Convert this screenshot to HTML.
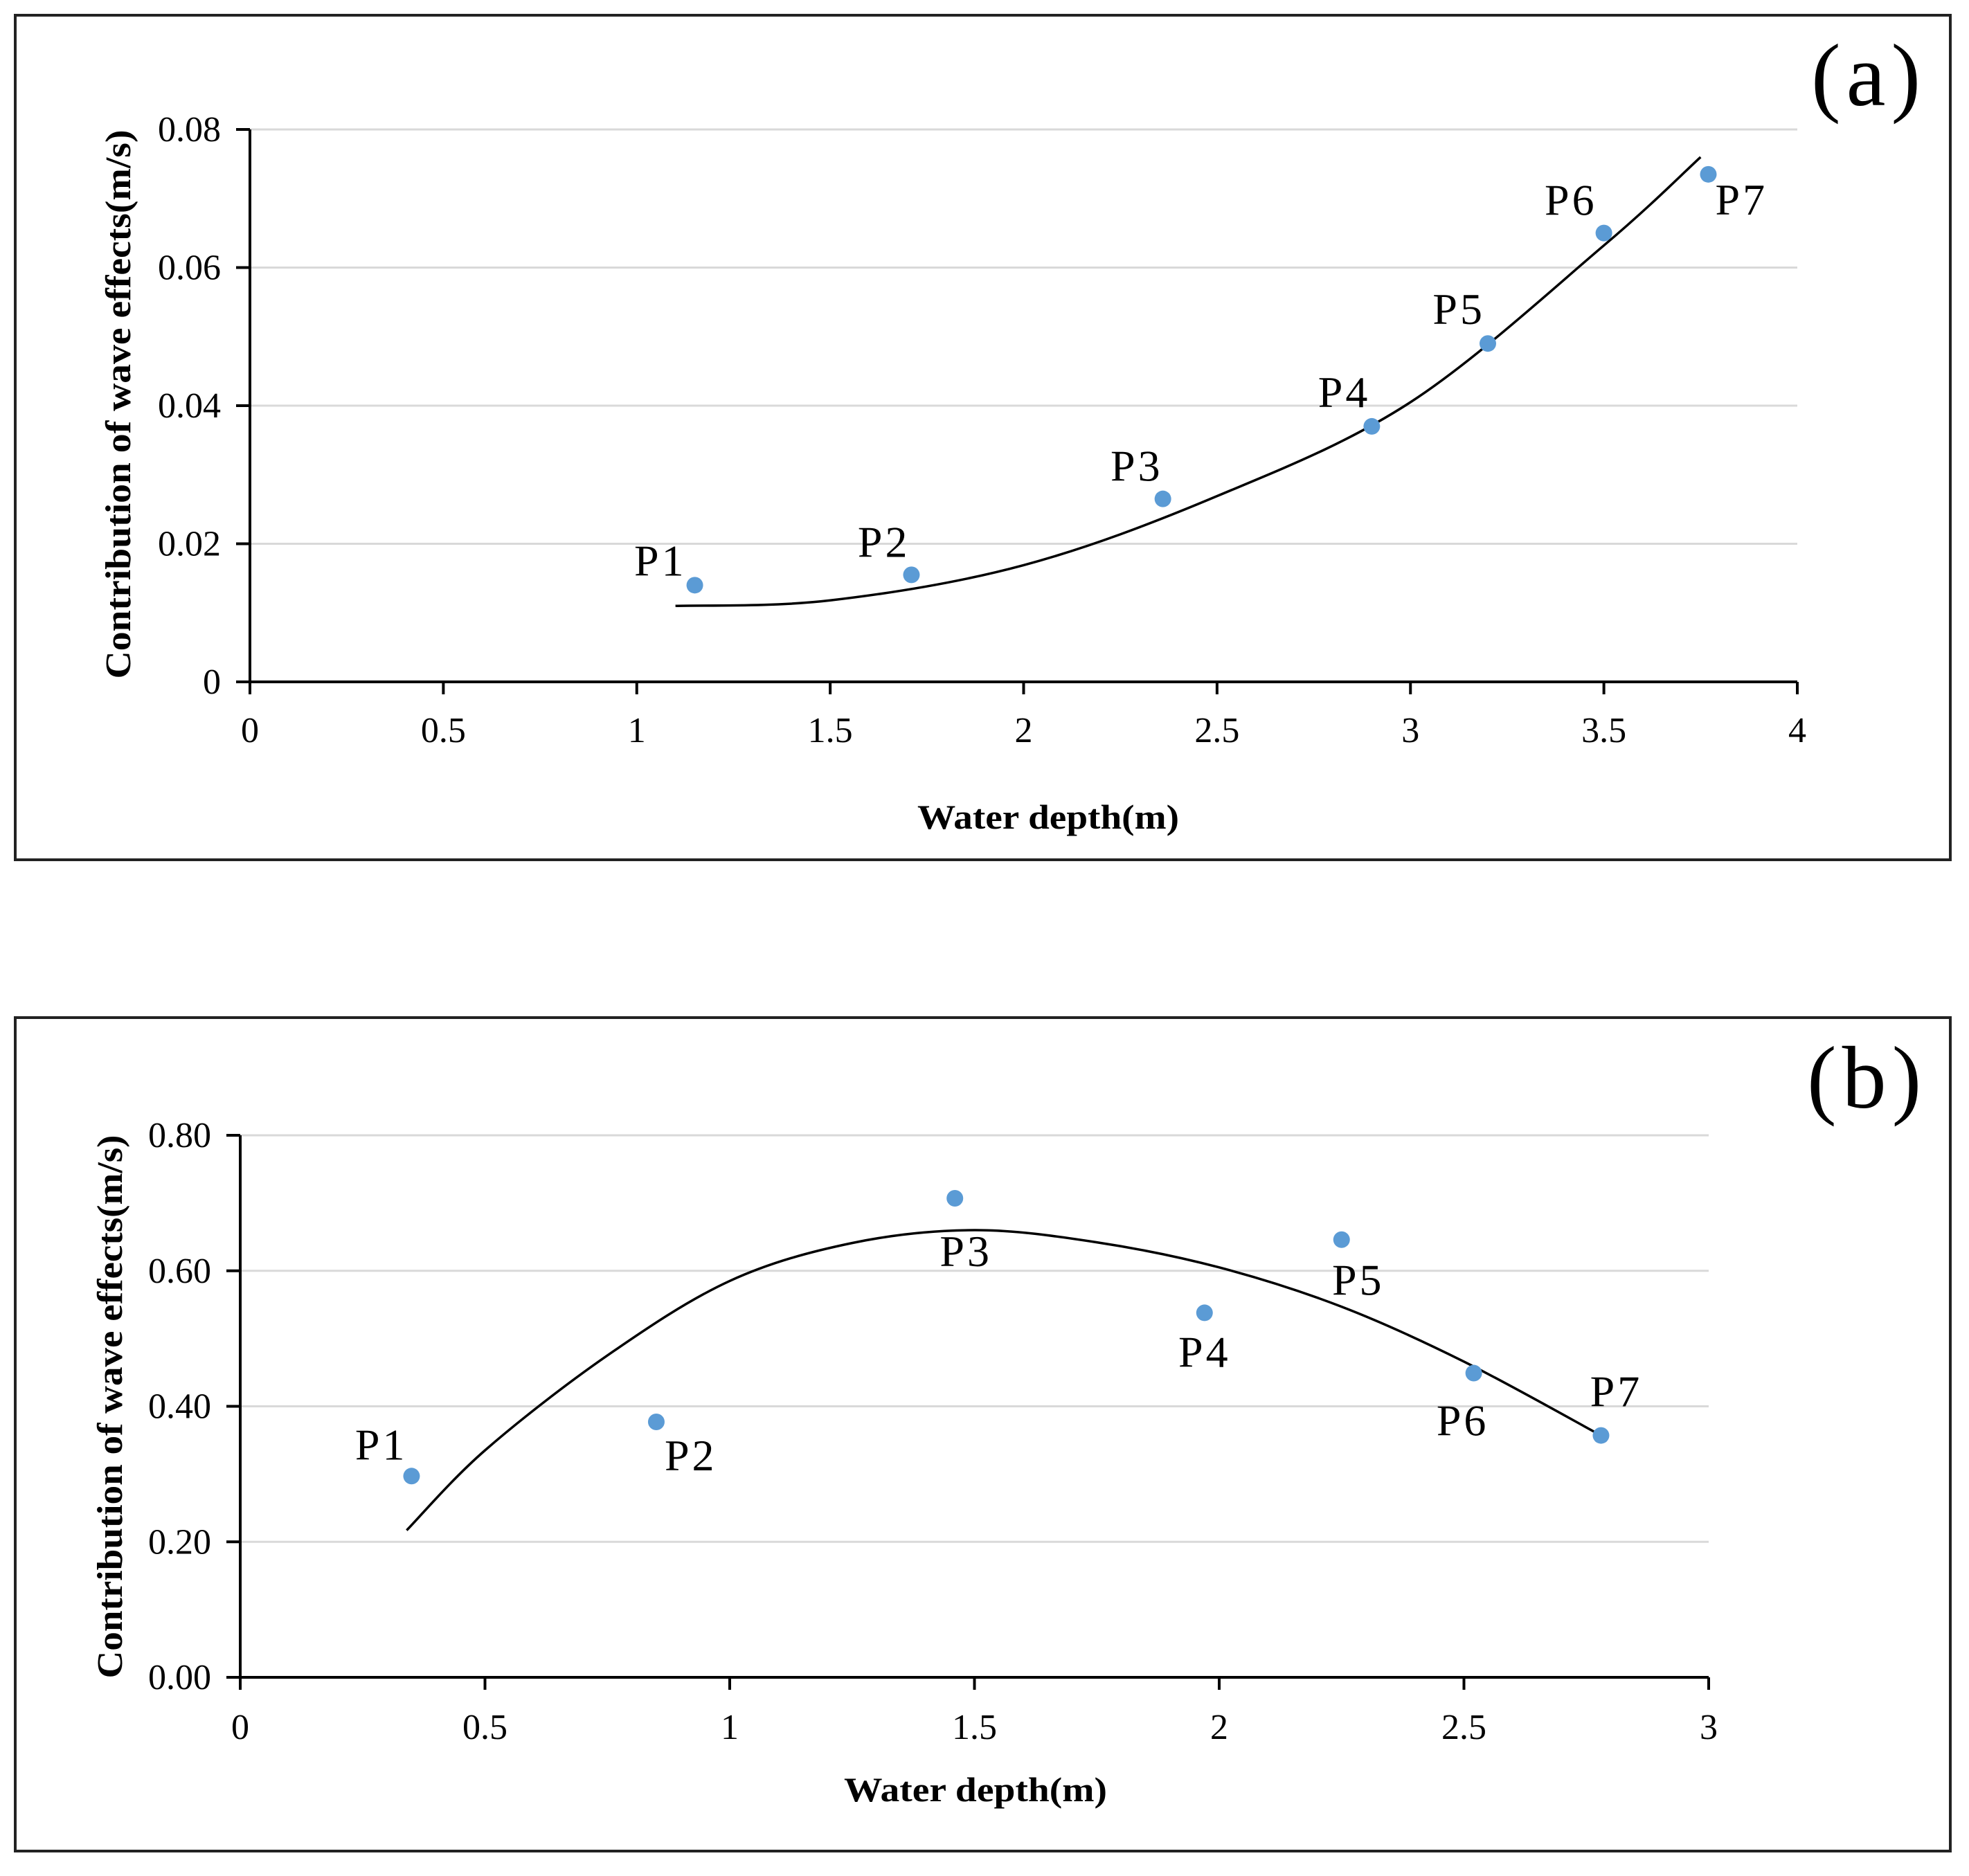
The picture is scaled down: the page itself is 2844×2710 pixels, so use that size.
<!DOCTYPE html>
<html><head><meta charset="utf-8"><style>
html,body{margin:0;padding:0;background:#fff}
svg{display:block}
text{font-family:"Liberation Serif",serif;fill:#000}
</style></head><body>
<svg id="svg" width="2844" height="2710" viewBox="0 0 2844 2710" xmlns="http://www.w3.org/2000/svg">
<rect x="22" y="22" width="2795" height="1220" fill="#fff" stroke="#222" stroke-width="4"/>
<rect x="22" y="1470" width="2795" height="1204" fill="#fff" stroke="#222" stroke-width="4"/>
<g id="ga"></g>
<g id="gb"></g>
</svg>
<script>
// ---- Panel (a) data ----
const aDepth = [1.15, 1.71, 2.36, 2.90, 3.20, 3.50, 3.77];
const aValue = [0.014, 0.0155, 0.0265, 0.037, 0.049, 0.065, 0.0735];
const aNames = ["P1","P2","P3","P4","P5","P6","P7"];
const aCurveX = [1.1, 1.5, 2.0, 2.5, 3.0, 3.5, 3.75];
const aCurveY = [0.011, 0.0118, 0.0169, 0.0269, 0.0405, 0.0632, 0.076];
const aXTicks = [0, 0.5, 1, 1.5, 2, 2.5, 3, 3.5, 4];
const aXTickLabels = ["0","0.5","1","1.5","2","2.5","3","3.5","4"];
const aYTicks = [0, 0.02, 0.04, 0.06, 0.08];
const aYTickLabels = ["0","0.02","0.04","0.06","0.08"];
// ---- Panel (b) data ----
const bDepth = [0.35, 0.85, 1.46, 1.97, 2.25, 2.52, 2.78];
const bValue = [0.297, 0.377, 0.707, 0.538, 0.646, 0.449, 0.357];
const bNames = ["P1","P2","P3","P4","P5","P6","P7"];
const bCurveX = [0.34, 0.5, 0.75, 1.0, 1.25, 1.5, 1.75, 2.0, 2.25, 2.5, 2.78];
const bCurveY = [0.217, 0.335, 0.475, 0.585, 0.641, 0.66, 0.642, 0.605, 0.547, 0.466, 0.357];
const bXTicks = [0, 0.5, 1, 1.5, 2, 2.5, 3];
const bXTickLabels = ["0","0.5","1","1.5","2","2.5","3"];
const bYTicks = [0, 0.2, 0.4, 0.6, 0.8];
const bYTickLabels = ["0.00","0.20","0.40","0.60","0.80"];

const NS = "http://www.w3.org/2000/svg";
function mk(parent, tag, attrs, txt){
  const e = document.createElementNS(NS, tag);
  for (const k in attrs) e.setAttribute(k, attrs[k]);
  if (txt !== undefined) e.textContent = txt;
  parent.appendChild(e); return e;
}
function catmull(pts){
  let d = "M" + pts[0][0] + "," + pts[0][1];
  for (let i=0;i<pts.length-1;i++){
    const p0=pts[Math.max(i-1,0)], p1=pts[i], p2=pts[i+1], p3=pts[Math.min(i+2,pts.length-1)];
    const c1=[p1[0]+(p2[0]-p0[0])/6, p1[1]+(p2[1]-p0[1])/6];
    const c2=[p2[0]-(p3[0]-p1[0])/6, p2[1]-(p3[1]-p1[1])/6];
    d += " C"+c1[0]+","+c1[1]+" "+c2[0]+","+c2[1]+" "+p2[0]+","+p2[1];
  }
  return d;
}
function draw(g, cfg){
  const sx = v => cfg.x0 + (v - cfg.xmin)/(cfg.xmax - cfg.xmin)*(cfg.x1 - cfg.x0);
  const sy = v => cfg.y0 - (v - cfg.ymin)/(cfg.ymax - cfg.ymin)*(cfg.y0 - cfg.y1);
  cfg.yTicks.forEach((t,i)=>{
    const y = sy(t);
    if (t !== cfg.ymin) {
      const gl = mk(g,"line",{x1:cfg.x0,x2:cfg.x1,y1:y,y2:y,stroke:"#d9d9d9","stroke-width":3});
      
      
    }
    const tk = mk(g,"line",{x1:cfg.x0-20,x2:cfg.x0,y1:y,y2:y,stroke:"#000","stroke-width":4});
    
    
    const tl = mk(g,"text",{x:cfg.x0-42,y:y+17,"text-anchor":"end","font-size":52}, cfg.yTickLabels[i]);
    
    
  });
  const ya = mk(g,"line",{x1:cfg.x0,x2:cfg.x0,y1:cfg.y1,y2:cfg.y0+2,stroke:"#000","stroke-width":4});
  
  
  const xa = mk(g,"line",{x1:cfg.x0-20,x2:cfg.x1,y1:cfg.y0,y2:cfg.y0,stroke:"#000","stroke-width":4});
  
  
  cfg.xTicks.forEach((t,i)=>{
    const x = sx(t);
    const tk = mk(g,"line",{x1:x,x2:x,y1:cfg.y0,y2:cfg.y0+18,stroke:"#000","stroke-width":4});
    
    
    const tl = mk(g,"text",{x:x,y:cfg.xLabY,"text-anchor":"middle","font-size":52}, cfg.xTickLabels[i]);
    
    
  });
  const xt = mk(g,"text",{x:cfg.xtX,y:cfg.xtY,"text-anchor":"middle","font-size":50,"font-weight":"bold",textLength:cfg.xtLen,lengthAdjust:"spacingAndGlyphs"},"Water depth(m)");
  
  
  const yt = mk(g,"text",{x:0,y:0,"text-anchor":"middle","font-size":52,"font-weight":"bold",textLength:cfg.ytLen,lengthAdjust:"spacingAndGlyphs",transform:"translate("+cfg.ytX+","+cfg.ytY+") rotate(-90)"},"Contribution of wave effects(m/s)");
  
  
  const pts = cfg.cx.map((v,i)=>[sx(v), sy(cfg.cy[i])]);
  const tr = mk(g,"path",{d:catmull(pts),fill:"none",stroke:"#000","stroke-width":3.5});
  
  
  cfg.xs.forEach((v,i)=>{
    const x = sx(v), y = sy(cfg.ys[i]);
    const c = mk(g,"circle",{cx:x,cy:y,r:12,fill:"#5b9bd5"});
    
    
    const o = cfg.off[i];
    const l = mk(g,"text",{x:x+o[0],y:y+o[1],"text-anchor":o[2],"font-size":64,"letter-spacing":4}, cfg.names[i]);
    
    
  });
  const pl = mk(g,"text",{x:cfg.plX,y:cfg.plY,"font-size":128,"letter-spacing":8}, cfg.panel);
  
  
}
draw(document.getElementById('ga'), {
  x0:361, x1:2596, y0:985, y1:187, xmin:0, xmax:4, ymin:0, ymax:0.08,
  xTicks:aXTicks, xTickLabels:aXTickLabels, yTicks:aYTicks, yTickLabels:aYTickLabels,
  xLabY:1072, xtX:1514, xtY:1197, xtLen:378, ytX:188, ytY:584, ytLen:793,
  xs:aDepth, ys:aValue, names:aNames, cx:aCurveX, cy:aCurveY,
  off:[[-12,-14,"end"],[-2,-26,"end"],[0,-26,"end"],[-2,-28,"end"],[-4,-28,"end"],[-10,-26,"end"],[10,58,"start"]],
  panel:"(a)", plX:2616, plY:152
});
draw(document.getElementById('gb'), {
  x0:347, x1:2468, y0:2423, y1:1640, xmin:0, xmax:3, ymin:0, ymax:0.8,
  xTicks:bXTicks, xTickLabels:bXTickLabels, yTicks:bYTicks, yTickLabels:bYTickLabels,
  xLabY:2512, xtX:1409, xtY:2602, xtLen:380, ytX:176, ytY:2032, ytLen:785,
  xs:bDepth, ys:bValue, names:bNames, cx:bCurveX, cy:bCurveY,
  off:[[-6,-24,"end"],[12,70,"start"],[16,98,"middle"],[0,78,"middle"],[24,80,"middle"],[-16,90,"middle"],[22,-42,"middle"]],
  panel:"(b)", plX:2610, plY:1600
});
</script>
</body></html>
